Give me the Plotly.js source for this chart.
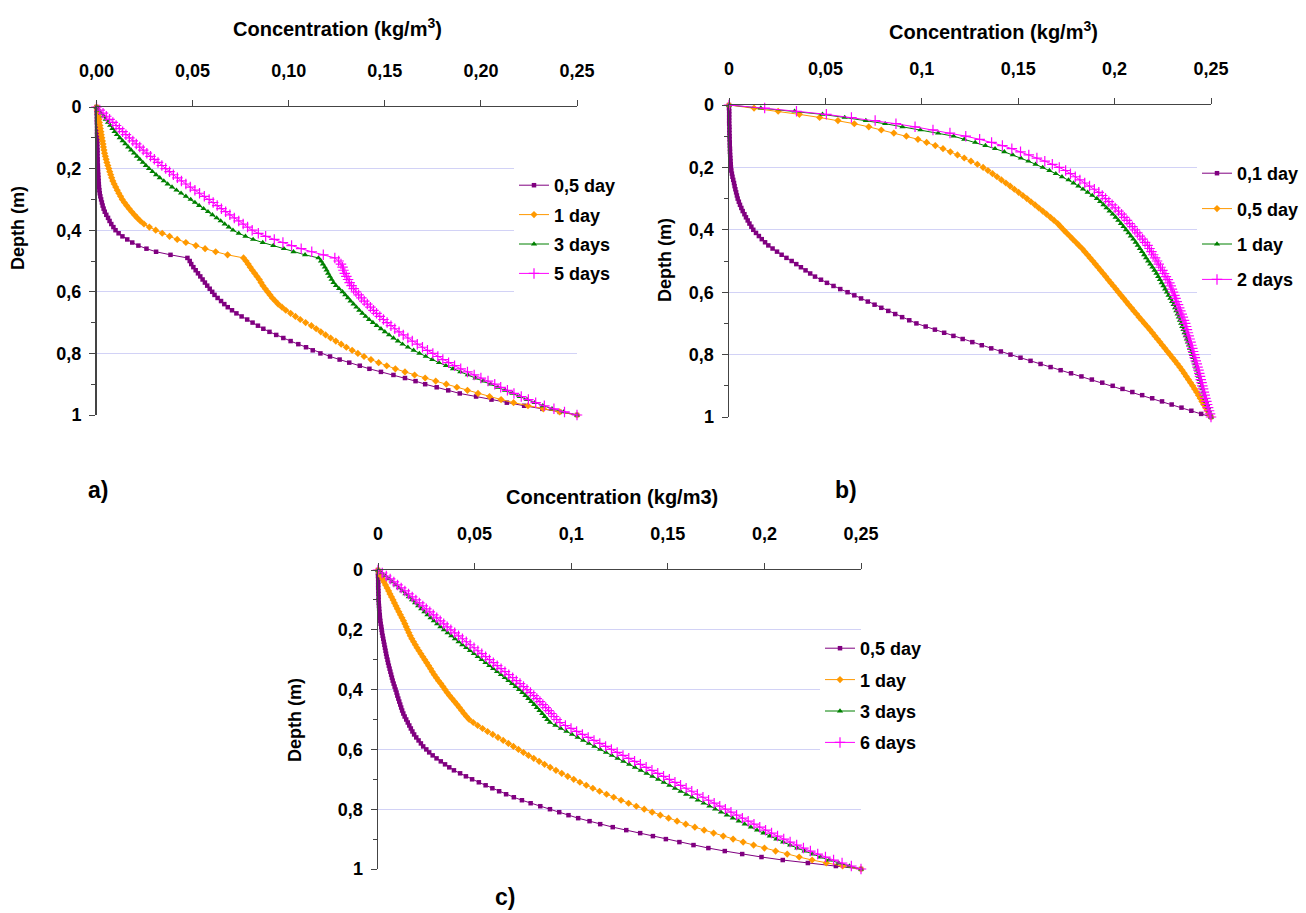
<!DOCTYPE html>
<html>
<head>
<meta charset="utf-8">
<script src="https://cdn.plot.ly/plotly-3.0.1.min.js"></script>
<style>html,body{margin:0;padding:0;background:#fff;}#chart{width:1306px;height:913px;}</style>
</head>
<body>
<div id="chart"></div>
<script>
// Depth (m) grid
const depth = [
0.00,0.01,0.02,0.03,0.04,0.05,0.06,0.07,0.08,0.09,
0.10,0.11,0.12,0.13,0.14,0.15,0.16,0.17,0.18,0.19,
0.20,0.21,0.22,0.23,0.24,0.25,0.26,0.27,0.28,0.29,
0.30,0.31,0.32,0.33,0.34,0.35,0.36,0.37,0.38,0.39,
0.40,0.41,0.42,0.43,0.44,0.45,0.46,0.47,0.48,0.49,
0.50,0.51,0.52,0.53,0.54,0.55,0.56,0.57,0.58,0.59,
0.60,0.61,0.62,0.63,0.64,0.65,0.66,0.67,0.68,0.69,
0.70,0.71,0.72,0.73,0.74,0.75,0.76,0.77,0.78,0.79,
0.80,0.81,0.82,0.83,0.84,0.85,0.86,0.87,0.88,0.89,
0.90,0.91,0.92,0.93,0.94,0.95,0.96,0.97,0.98,0.99,
1.00];

// Panel a) names and concentrations (kg/m3)
const namesA = ['0,5 day','1 day','3 days','5 days'];
const a_05day = [
0,0.0001,0.0001,0.0002,0.0002,0.0002,0.0003,0.0003,0.0003,0.0003,
0.0004,0.0004,0.0004,0.0004,0.0005,0.0005,0.0005,0.0006,0.0006,0.0007,
0.0007,0.0008,0.0009,0.0010,0.0011,0.0012,0.0013,0.0015,0.0017,0.0020,
0.0024,0.0028,0.0032,0.0037,0.0043,0.0051,0.0060,0.0068,0.0077,0.0088,
0.0099,0.0115,0.0135,0.0160,0.0186,0.0218,0.0260,0.0310,0.0385,0.0473,
0.0485,0.0493,0.0504,0.0516,0.0528,0.0540,0.0552,0.0564,0.0576,0.0589,
0.0602,0.0614,0.0630,0.0648,0.0665,0.0683,0.0705,0.0728,0.0755,0.0784,
0.0812,0.0840,0.0868,0.0900,0.0935,0.0972,0.1010,0.1050,0.1090,0.1125,
0.1165,0.1215,0.1265,0.1315,0.1370,0.1420,0.1480,0.1545,0.1605,0.1660,
0.1710,0.1770,0.1830,0.1890,0.1975,0.2055,0.2135,0.2225,0.2320,0.2410,
0.25];
const a_1day = [
0,0.0004,0.0007,0.0010,0.0013,0.0015,0.0018,0.0020,0.0023,0.0025,
0.0028,0.0031,0.0034,0.0036,0.0039,0.0042,0.0046,0.0050,0.0054,0.0059,
0.0064,0.0069,0.0074,0.0079,0.0085,0.0092,0.0100,0.0108,0.0116,0.0125,
0.0134,0.0145,0.0157,0.0170,0.0183,0.0197,0.0212,0.0228,0.0247,0.0275,
0.0308,0.0342,0.0380,0.0420,0.0465,0.0517,0.0565,0.0620,0.0682,0.0765,
0.0778,0.0789,0.0800,0.0811,0.0823,0.0835,0.0847,0.0856,0.0866,0.0878,
0.0890,0.0903,0.0915,0.0930,0.0945,0.0965,0.0985,0.1010,0.1035,0.1060,
0.1088,0.1118,0.1143,0.1167,0.1192,0.1218,0.1245,0.1273,0.1300,0.1330,
0.1360,0.1392,0.1428,0.1468,0.1510,0.1555,0.1605,0.1655,0.1710,0.1765,
0.1820,0.1875,0.1930,0.1985,0.2045,0.2105,0.2170,0.2245,0.2325,0.2410,
0.25];
const a_3days = [
0,0.0012,0.0024,0.0036,0.0048,0.0060,0.0071,0.0083,0.0094,0.0106,
0.0121,0.0136,0.0150,0.0165,0.0180,0.0195,0.0210,0.0225,0.0241,0.0257,
0.0273,0.0291,0.0310,0.0329,0.0350,0.0370,0.0393,0.0416,0.0440,0.0465,
0.0490,0.0512,0.0534,0.0557,0.0580,0.0603,0.0625,0.0646,0.0667,0.0688,
0.0710,0.0740,0.0775,0.0815,0.0865,0.0920,0.0975,0.1025,0.1085,0.1155,
0.1168,0.1178,0.1188,0.1197,0.1205,0.1214,0.1223,0.1233,0.1246,0.1262,
0.1280,0.1294,0.1308,0.1322,0.1337,0.1352,0.1367,0.1383,0.1400,0.1418,
0.1438,0.1458,0.1480,0.1500,0.1522,0.1545,0.1568,0.1592,0.1620,0.1650,
0.1680,0.1713,0.1747,0.1782,0.1818,0.1855,0.1893,0.1932,0.1972,0.2012,
0.2050,0.2088,0.2126,0.2164,0.2202,0.2240,0.2280,0.2322,0.2370,0.2430,
0.25];
const a_5days = [
0,0.0017,0.0034,0.0051,0.0068,0.0085,0.0102,0.0119,0.0136,0.0153,
0.0171,0.0189,0.0207,0.0225,0.0243,0.0262,0.0281,0.0301,0.0320,0.0340,
0.0360,0.0380,0.0400,0.0421,0.0442,0.0465,0.0488,0.0512,0.0536,0.0561,
0.0586,0.0607,0.0628,0.0650,0.0672,0.0694,0.0717,0.0740,0.0763,0.0786,
0.0810,0.0842,0.0880,0.0925,0.0970,0.1015,0.1065,0.1120,0.1180,0.1240,
0.1260,0.1272,0.1280,0.1285,0.1292,0.1300,0.1309,0.1317,0.1327,0.1338,
0.1350,0.1364,0.1378,0.1393,0.1409,0.1425,0.1441,0.1457,0.1474,0.1493,
0.1512,0.1532,0.1552,0.1574,0.1596,0.1620,0.1643,0.1669,0.1696,0.1722,
0.1750,0.1776,0.1802,0.1832,0.1863,0.1895,0.1930,0.1965,0.2000,0.2037,
0.2072,0.2103,0.2138,0.2172,0.2210,0.2247,0.2285,0.2330,0.2380,0.2435,
0.25];

// Panel b)
const namesB = ['0,1 day','0,5 day','1 day','2 days'];
const b_01day = [
0,0.0000,0.0001,0.0001,0.0001,0.0001,0.0001,0.0002,0.0002,0.0002,
0.0003,0.0003,0.0004,0.0004,0.0005,0.0005,0.0006,0.0007,0.0008,0.0009,
0.0010,0.0012,0.0015,0.0018,0.0022,0.0026,0.0029,0.0033,0.0037,0.0041,
0.0045,0.0051,0.0057,0.0064,0.0071,0.0080,0.0088,0.0097,0.0106,0.0116,
0.0126,0.0140,0.0155,0.0170,0.0187,0.0204,0.0226,0.0249,0.0273,0.0298,
0.0325,0.0349,0.0373,0.0397,0.0421,0.0446,0.0477,0.0508,0.0542,0.0577,
0.0615,0.0650,0.0685,0.0720,0.0755,0.0790,0.0826,0.0862,0.0898,0.0935,
0.0972,0.1020,0.1068,0.1116,0.1164,0.1212,0.1262,0.1311,0.1360,0.1410,
0.1460,0.1512,0.1564,0.1616,0.1668,0.1720,0.1774,0.1828,0.1882,0.1936,
0.1990,0.2041,0.2092,0.2143,0.2195,0.2246,0.2296,0.2347,0.2398,0.2449,
0.25];
const b_05day = [
0,0.0130,0.0255,0.0365,0.0470,0.0565,0.0650,0.0725,0.0790,0.0855,
0.0920,0.0980,0.1025,0.1070,0.1110,0.1148,0.1185,0.1220,0.1255,0.1288,
0.1318,0.1343,0.1367,0.1390,0.1413,0.1436,0.1458,0.1480,0.1502,0.1524,
0.1545,0.1566,0.1587,0.1607,0.1627,0.1647,0.1667,0.1686,0.1705,0.1720,
0.1735,0.1751,0.1767,0.1783,0.1799,0.1815,0.1831,0.1845,0.1859,0.1873,
0.1887,0.1900,0.1914,0.1927,0.1941,0.1954,0.1967,0.1980,0.1994,0.2007,
0.2020,0.2033,0.2047,0.2060,0.2073,0.2087,0.2100,0.2114,0.2127,0.2141,
0.2155,0.2169,0.2183,0.2196,0.2209,0.2222,0.2235,0.2248,0.2261,0.2274,
0.2287,0.2300,0.2313,0.2326,0.2338,0.2350,0.2361,0.2372,0.2383,0.2394,
0.2405,0.2415,0.2425,0.2435,0.2444,0.2453,0.2462,0.2472,0.2481,0.2490,
0.25];
const b_1day = [
0,0.0165,0.0340,0.0485,0.0600,0.0710,0.0810,0.0900,0.0993,0.1085,
0.1165,0.1220,0.1277,0.1330,0.1380,0.1428,0.1472,0.1514,0.1553,0.1590,
0.1627,0.1662,0.1695,0.1727,0.1761,0.1787,0.1812,0.1836,0.1860,0.1884,
0.1908,0.1925,0.1942,0.1958,0.1974,0.1990,0.2005,0.2019,0.2033,0.2046,
0.2059,0.2072,0.2084,0.2097,0.2109,0.2120,0.2131,0.2142,0.2153,0.2163,
0.2174,0.2185,0.2196,0.2207,0.2217,0.2226,0.2235,0.2244,0.2253,0.2262,
0.2271,0.2280,0.2289,0.2298,0.2306,0.2314,0.2320,0.2327,0.2333,0.2339,
0.2345,0.2351,0.2357,0.2363,0.2369,0.2375,0.2380,0.2386,0.2391,0.2397,
0.2402,0.2408,0.2413,0.2418,0.2423,0.2428,0.2432,0.2437,0.2441,0.2445,
0.2450,0.2455,0.2460,0.2465,0.2470,0.2475,0.2480,0.2485,0.2490,0.2495,
0.25];
const b_2days = [
0,0.0185,0.0350,0.0505,0.0635,0.0758,0.0866,0.0965,0.1058,0.1146,
0.1228,0.1300,0.1362,0.1418,0.1467,0.1512,0.1555,0.1597,0.1638,0.1677,
0.1713,0.1746,0.1771,0.1796,0.1820,0.1845,0.1870,0.1895,0.1918,0.1936,
0.1953,0.1970,0.1987,0.2003,0.2020,0.2036,0.2050,0.2064,0.2078,0.2092,
0.2105,0.2118,0.2131,0.2145,0.2158,0.2171,0.2181,0.2191,0.2200,0.2210,
0.2220,0.2229,0.2238,0.2248,0.2257,0.2266,0.2276,0.2284,0.2291,0.2297,
0.2303,0.2310,0.2316,0.2322,0.2329,0.2335,0.2341,0.2348,0.2354,0.2360,
0.2366,0.2371,0.2375,0.2380,0.2384,0.2389,0.2394,0.2398,0.2403,0.2407,
0.2412,0.2416,0.2421,0.2426,0.2430,0.2435,0.2439,0.2443,0.2447,0.2451,
0.2455,0.2459,0.2463,0.2467,0.2471,0.2476,0.2480,0.2485,0.2490,0.2495,
0.25];

// Panel c)
const namesC = ['0,5 day','1 day','3 days','6 days'];
const c_05day = [
0,0.0000,0.0000,0.0001,0.0001,0.0001,0.0001,0.0002,0.0002,0.0003,
0.0003,0.0004,0.0005,0.0006,0.0007,0.0009,0.0010,0.0012,0.0014,0.0017,
0.0019,0.0021,0.0024,0.0027,0.0030,0.0033,0.0036,0.0039,0.0042,0.0045,
0.0049,0.0052,0.0056,0.0060,0.0064,0.0068,0.0072,0.0076,0.0081,0.0086,
0.0091,0.0096,0.0100,0.0105,0.0110,0.0115,0.0120,0.0125,0.0131,0.0138,
0.0146,0.0154,0.0162,0.0170,0.0178,0.0187,0.0198,0.0210,0.0222,0.0234,
0.0250,0.0265,0.0283,0.0303,0.0325,0.0347,0.0369,0.0393,0.0425,0.0455,
0.0487,0.0522,0.0557,0.0592,0.0627,0.0663,0.0703,0.0745,0.0790,0.0840,
0.0890,0.0938,0.0986,0.1036,0.1095,0.1150,0.1215,0.1285,0.1357,0.1423,
0.1490,0.1560,0.1633,0.1710,0.1795,0.1885,0.1985,0.2095,0.2225,0.2370,
0.25];
const c_1day = [
0,0.0008,0.0016,0.0024,0.0031,0.0039,0.0047,0.0055,0.0062,0.0070,
0.0078,0.0085,0.0093,0.0100,0.0108,0.0116,0.0124,0.0132,0.0139,0.0146,
0.0153,0.0160,0.0167,0.0175,0.0184,0.0193,0.0202,0.0212,0.0222,0.0232,
0.0242,0.0252,0.0262,0.0272,0.0281,0.0291,0.0302,0.0313,0.0325,0.0336,
0.0347,0.0358,0.0370,0.0383,0.0396,0.0409,0.0421,0.0433,0.0445,0.0458,
0.0472,0.0493,0.0516,0.0541,0.0567,0.0594,0.0621,0.0648,0.0675,0.0701,
0.0727,0.0753,0.0779,0.0806,0.0834,0.0862,0.0891,0.0921,0.0951,0.0982,
0.1013,0.1045,0.1078,0.1112,0.1147,0.1183,0.1220,0.1258,0.1297,0.1337,
0.1378,0.1419,0.1461,0.1504,0.1548,0.1593,0.1640,0.1688,0.1737,0.1787,
0.1838,0.1890,0.1944,0.2000,0.2058,0.2118,0.2180,0.2247,0.2320,0.2405,
0.25];
const c_3days = [
0,0.0020,0.0039,0.0057,0.0074,0.0091,0.0108,0.0125,0.0142,0.0159,
0.0176,0.0192,0.0208,0.0224,0.0240,0.0256,0.0272,0.0289,0.0306,0.0323,
0.0341,0.0360,0.0379,0.0398,0.0417,0.0436,0.0456,0.0476,0.0496,0.0516,
0.0536,0.0556,0.0576,0.0596,0.0616,0.0636,0.0656,0.0675,0.0694,0.0712,
0.0730,0.0747,0.0763,0.0778,0.0793,0.0808,0.0822,0.0836,0.0850,0.0863,
0.0876,0.0890,0.0918,0.0946,0.0975,0.1004,0.1033,0.1062,0.1091,0.1120,
0.1150,0.1180,0.1210,0.1240,0.1270,0.1300,0.1330,0.1360,0.1390,0.1420,
0.1450,0.1479,0.1508,0.1537,0.1566,0.1595,0.1625,0.1655,0.1685,0.1715,
0.1745,0.1775,0.1805,0.1836,0.1867,0.1898,0.1930,0.1962,0.1995,0.2028,
0.2062,0.2097,0.2133,0.2170,0.2208,0.2248,0.2290,0.2335,0.2385,0.2440,
0.25];
const c_6days = [
0,0.0022,0.0043,0.0063,0.0082,0.0101,0.0120,0.0139,0.0158,0.0177,
0.0196,0.0214,0.0232,0.0250,0.0268,0.0286,0.0304,0.0322,0.0340,0.0358,
0.0377,0.0397,0.0417,0.0437,0.0457,0.0477,0.0497,0.0517,0.0537,0.0557,
0.0577,0.0597,0.0617,0.0637,0.0657,0.0677,0.0697,0.0716,0.0735,0.0753,
0.0771,0.0789,0.0806,0.0822,0.0838,0.0853,0.0868,0.0883,0.0897,0.0911,
0.0925,0.0942,0.0970,0.0999,0.1028,0.1058,0.1088,0.1118,0.1148,0.1178,
0.1208,0.1238,0.1268,0.1298,0.1328,0.1358,0.1388,0.1418,0.1448,0.1478,
0.1508,0.1537,0.1566,0.1595,0.1624,0.1653,0.1682,0.1711,0.1740,0.1769,
0.1798,0.1827,0.1856,0.1886,0.1916,0.1946,0.1976,0.2006,0.2037,0.2068,
0.2100,0.2133,0.2167,0.2202,0.2238,0.2276,0.2316,0.2358,0.2402,0.2450,
0.25];

// Tick values
const xTicks = [0, 0.05, 0.10, 0.15, 0.20, 0.25];
const yTicks = [0, 0.2, 0.4, 0.6, 0.8, 1];

const W = 1306, H = 913;
const SANS = "'Liberation Sans', Arial, Helvetica, sans-serif";

const colors = ['#800080', '#FF9900', '#008000', '#FF00FF'];
const symbols = ['square', 'diamond', 'triangle-up', 'cross-thin'];
const msizes = [4.5, 5.5, 5.5, 7.5];

function px(v){ return v / W; }
function py(v){ return 1 - v / H; }

const traces = [];
function addPanel(series, names, xa, ya, leg, tag){
  series.forEach((s, i) => {
    traces.push({
      type: 'scatter', mode: 'lines+markers',
      x: s, y: depth, xaxis: xa, yaxis: ya,
      name: names[i], legend: leg, legendgroup: tag + i,
      cliponaxis: false,
      line: {color: colors[i], width: 1},
      marker: {symbol: symbols[i], size: msizes[i], color: colors[i],
               line: {color: colors[i], width: i === 3 ? 1.2 : 0}}
    });
  });
}
addPanel([a_05day, a_1day, a_3days, a_5days], namesA, 'x', 'y', 'legend', 'a');
addPanel([b_01day, b_05day, b_1day, b_2days], namesB, 'x2', 'y2', 'legend2', 'b');
addPanel([c_05day, c_1day, c_3days, c_6days], namesC, 'x3', 'y3', 'legend3', 'c');

const tickFont = {family: SANS, size: 18, color: '#000', weight: 'bold'};
function xAxis(x0, x1, anchor, fmt){
  return {
    domain: [px(x0), px(x1)], anchor: anchor, side: 'top',
    range: [0, 0.25], tickvals: xTicks, tickformat: fmt,
    ticks: 'outside', ticklen: 6, tickwidth: 1, tickcolor: '#444',
    showline: true, linecolor: '#444', linewidth: 1.5,
    showgrid: false, zeroline: false, ticklabelstandoff: 15,
    tickfont: tickFont, fixedrange: true
  };
}
function yAxis(y0, y1, anchor){
  return {
    domain: [py(y1), py(y0)], anchor: anchor,
    range: [1, 0], tickvals: yTicks,
    ticks: 'outside', ticklen: 6, tickwidth: 1, tickcolor: '#444',
    showline: true, linecolor: '#444', linewidth: 1.5,
    showgrid: true, gridcolor: '#d2d2f6', gridwidth: 1,
    zeroline: false, ticklabelstandoff: 4,
    minor: {dtick: 0.1, ticks: 'outside', ticklen: 4, tickcolor: '#444', showgrid: false},
    tickfont: tickFont, fixedrange: true
  };
}
function legendAt(left, top, gap){
  return {
    x: px(left), xanchor: 'left', y: py(top), yanchor: 'top',
    bgcolor: '#ffffff', borderwidth: 0, traceorder: 'grouped',
    tracegroupgap: gap, itemclick: false, itemdoubleclick: false,
    font: {family: SANS, size: 18, color: '#000', weight: 'bold'}
  };
}

const titleFont = {family: SANS, size: 20, color: '#000', weight: 'bold'};
const depthFont = {family: SANS, size: 18, color: '#000', weight: 'bold'};
const labelFont = {family: SANS, size: 23, color: '#000', weight: 'bold'};
function ann(text, x, y, font, angle){
  return {text: text, x: px(x), y: py(y), xref: 'paper', yref: 'paper',
          xanchor: 'center', yanchor: 'middle', showarrow: false,
          font: font, textangle: angle || 0};
}

const layout = {
  width: W, height: H,
  margin: {l: 0, r: 0, t: 0, b: 0},
  paper_bgcolor: '#ffffff', plot_bgcolor: 'rgba(0,0,0,0)',
  separators: ', ',
  showlegend: true,
  xaxis: xAxis(96.5, 577, 'y', '.2f'),
  yaxis: yAxis(107, 415, 'x'),
  xaxis2: xAxis(729, 1211, 'y2', ''),
  yaxis2: yAxis(105, 417, 'x2'),
  xaxis3: xAxis(378, 861, 'y3', ''),
  yaxis3: yAxis(570, 869, 'x3'),
  legend: legendAt(514, 167, 3),
  legend2: legendAt(1197, 155, 9),
  legend3: legendAt(820, 630, 5),
  annotations: [
    ann('Concentration (kg/m<sup>3</sup>)', 337, 28, titleFont),
    ann('Concentration (kg/m<sup>3</sup>)', 993, 30, titleFont),
    ann('Concentration (kg/m3)', 612, 497, titleFont),
    ann('Depth (m)', 18, 228, depthFont, -90),
    ann('Depth (m)', 665, 260, depthFont, -90),
    ann('Depth (m)', 295, 720, depthFont, -90),
    ann('a)', 98, 490, labelFont),
    ann('b)', 846, 490, labelFont),
    ann('c)', 505, 897, labelFont)
  ]
};

Plotly.newPlot('chart', traces, layout, {displayModeBar: false, staticPlot: true});
</script>
</body>
</html>
